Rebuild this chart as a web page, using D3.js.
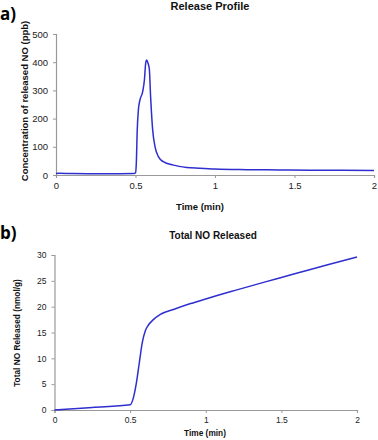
<!DOCTYPE html>
<html><head><meta charset="utf-8">
<script src="https://cdn.jsdelivr.net/npm/d3@7"></script>
<style>body{margin:0;background:#fff}svg{display:block}</style>
</head><body>
<svg id="c" width="378" height="440"></svg>
<script>
// Panel a: release profile
const timeA = [0, 0.02, 0.1, 0.2, 0.3, 0.4, 0.49, 0.5, 0.505, 0.511, 0.518, 0.528, 0.545, 0.556, 0.564, 0.57, 0.578, 0.587, 0.595, 0.608, 0.623, 0.644, 0.675, 0.738, 0.822, 0.9, 1.0, 1.2, 1.4, 1.6, 1.8, 2.0];
const concA = [5, 6, 5, 4.5, 4.5, 4.5, 5, 8, 40, 160, 230, 266, 295, 337, 396, 408, 398, 376, 278, 160, 100, 65, 47, 35, 27, 24, 21, 19, 18, 17, 16.5, 16];
// Panel b: total NO released
const timeB = [0, 0.1, 0.25, 0.5, 0.52, 0.54, 0.56, 0.58, 0.6, 0.62, 0.65, 0.7, 0.8, 0.9, 1.0, 1.2, 1.4, 1.5, 1.6, 1.8, 2.0];
const totalB = [0, 0.2, 0.5, 1.0, 2.2, 5, 9, 13, 15.3, 16.4, 17.4, 18.5, 19.6, 20.6, 21.5, 23.2, 24.85, 25.65, 26.45, 28.05, 29.6];
const xTicks = [0, 0.5, 1, 1.5, 2];
const yTicksA = [0, 100, 200, 300, 400, 500];
const yTicksB = [0, 5, 10, 15, 20, 25, 30];

const svg = d3.select("#c");
const lineColor = "#2f2fcf";
const axisColor = "#999";

function panel(cfg) {
  const x = d3.scaleLinear().domain([0, 2]).range([cfg.x0, cfg.x1]);
  const y = d3.scaleLinear().domain(cfg.yDomain).range([cfg.y0, cfg.y1]);
  const g = svg.append("g");
  const xa = g.append("g").attr("transform", `translate(0,${cfg.y0})`)
    .call(d3.axisBottom(x).tickValues(xTicks).tickFormat(d3.format("~g")).tickSize(3).tickPadding(cfg.xPad));
  const ya = g.append("g").attr("transform", `translate(${cfg.x0},0)`)
    .call(d3.axisLeft(y).tickValues(cfg.yTicks).tickSize(3).tickPadding(cfg.yPad));
  [xa, ya].forEach(a => {
    a.select(".domain").attr("stroke", axisColor).attr("stroke-width", 1.2);
    a.selectAll(".tick line").attr("stroke", axisColor);
    a.selectAll(".tick text").attr("fill", "#222").attr("font-family", "Liberation Sans, Arial, sans-serif").attr("font-size", cfg.tickFs);
  });
  const data = cfg.xs.map((t, i) => [t, cfg.ys[i]]);
  g.append("path").datum(data)
    .attr("fill", "none").attr("stroke", lineColor).attr("stroke-width", 1.5)
    .attr("d", d3.line().x(d => x(d[0])).y(d => y(d[1])).curve(d3.curveMonotoneX));
  // titles
  g.append("text").attr("x", cfg.titleX).attr("y", cfg.titleY).attr("text-anchor", "middle")
    .attr("font-family", "Liberation Sans, Arial, sans-serif").attr("font-weight", "bold").attr("font-size", cfg.titleFs)
    .attr("fill", "#111").text(cfg.title);
  g.append("text").attr("x", cfg.xlabX).attr("y", cfg.xlabY).attr("text-anchor", "middle")
    .attr("font-family", "Liberation Sans, Arial, sans-serif").attr("font-weight", "bold").attr("font-size", cfg.labFs)
    .attr("fill", "#111").text("Time (min)");
  g.append("text").attr("transform", `translate(${cfg.ylabX},${cfg.ylabY}) rotate(-90)`).attr("text-anchor", "middle")
    .attr("font-family", "Liberation Sans, Arial, sans-serif").attr("font-weight", "bold").attr("font-size", cfg.labFs)
    .attr("fill", "#111").text(cfg.ylab);
  g.append("text").attr("x", 0).attr("y", cfg.letterY)
    .attr("font-family", "Open Sans, Liberation Sans, sans-serif").attr("font-weight", "bold").attr("font-size", 17)
    .attr("fill", "#000").text(cfg.letter);
}

panel({
  x0: 56, x1: 374, y0: 175, y1: 34, yDomain: [0, 500], yTicks: yTicksA,
  xs: timeA, ys: concA, tickFs: 9.5, xPad: 4, yPad: 5,
  title: "Release Profile", titleX: 210, titleY: 10, titleFs: 11,
  xlabX: 200, xlabY: 209.5, labFs: 9.5,
  ylab: "Concentration of released NO (ppb)", ylabX: 28, ylabY: 101,
  letter: "a)", letterY: 20
});
panel({
  x0: 54.5, x1: 357, y0: 410, y1: 255, yDomain: [0, 30], yTicks: yTicksB,
  xs: timeB, ys: totalB, tickFs: 8.5, xPad: 4, yPad: 5,
  title: "Total NO Released", titleX: 213, titleY: 238.5, titleFs: 10,
  xlabX: 205, xlabY: 436, labFs: 8.3,
  ylab: "Total NO Released (nmol/g)", ylabX: 19.5, ylabY: 333,
  letter: "b)", letterY: 239
});
</script>
</body></html>
